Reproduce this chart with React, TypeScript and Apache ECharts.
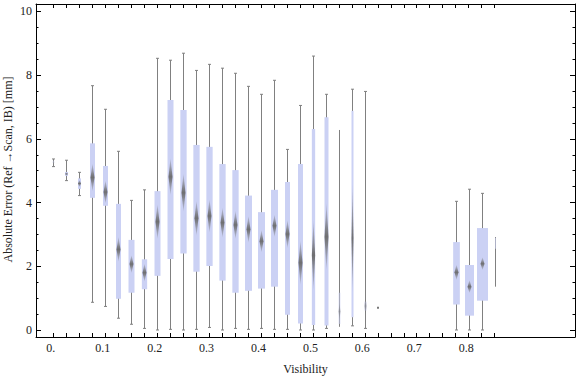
import React, { useEffect, useRef } from "react";
import * as echarts from "echarts";

// Box positions along the visibility axis
const visibility = [
  0, 0.025, 0.05, 0.075, 0.1, 0.125, 0.15, 0.175, 0.2, 0.225, 0.25, 0.275, 0.3,
  0.325, 0.35, 0.375, 0.4, 0.425, 0.45, 0.475, 0.5, 0.525, 0.55, 0.575, 0.6,
  0.625, 0.775, 0.8, 0.825, 0.85,
];
const whiskerLow = [
  5.13, 4.69, 4.22, 0.87, 0.74, 0.37, 0.18, 0.05, 0.0, 0.02, 0.0, 0.02, 0.08,
  0.0, 0.05, 0.02, 0.05, 0.02, 0.02, 0.0, 0.0, 0.05, 0.1, 0.13, 0.05, 0.7,
  0.0, 0.0, 0.0, 1.36,
];
const quartile1 = [
  5.24, 4.84, 4.43, 4.15, 3.9, 0.98, 1.17, 1.28, 1.7, 2.23, 2.4, 1.83, 2.01,
  1.55, 1.17, 1.23, 1.3, 1.36, 0.48, 0.2, 0.16, 0.14, 0.19, 0.4, 0.61, 0.7,
  0.8, 0.45, 0.92, 2.55,
];
const median = [
  5.27, 4.9, 4.6, 4.79, 4.33, 2.53, 2.07, 1.8, 3.4, 4.81, 4.31, 3.51, 3.58,
  3.37, 3.3, 3.16, 2.79, 3.27, 3.01, 2.11, 2.35, 2.93, 0.58, 2.88, 0.75, 0.7,
  1.81, 1.36, 2.08, 2.75,
];
const quartile3 = [
  5.31, 4.96, 4.76, 5.86, 5.15, 3.96, 2.83, 2.22, 4.36, 7.22, 6.91, 5.81, 5.75,
  5.21, 5.02, 4.22, 3.7, 4.4, 4.65, 5.21, 6.31, 6.68, 1.17, 6.88, 0.89, 0.7,
  2.76, 2.04, 3.2, 2.9,
];
const whiskerHigh = [
  5.37, 5.33, 4.95, 7.67, 6.93, 5.61, 4.07, 4.4, 8.53, 8.47, 8.69, 8.15, 8.34,
  8.22, 8.06, 7.65, 7.4, 7.84, 5.67, 7.05, 8.6, 7.4, 6.28, 7.56, 7.49, 0.7,
  4.04, 4.42, 4.29, 2.92,
];
// half-height of the median confidence diamond
const medianCI = [
  0.04, 0.05, 0.11, 0.44, 0.36, 0.39, 0.28, 0.28, 0.55, 0.58, 0.6, 0.55, 0.52,
  0.47, 0.44, 0.42, 0.35, 0.35, 0.44, 0.7, 1.1, 1.05, 0.27, 1.7, 0.3, 0,
  0.24, 0.2, 0.2, 0,
];
// relative sample weight (drives box width)
const sampleWeight = [
  1.5, 3, 3, 5, 5, 5, 6, 5.3, 6, 6, 6.3, 6.3, 6.3, 6.3, 6.3, 7, 7, 7, 5, 5,
  3.3, 4, 2, 2, 2, 2, 6.7, 9, 11, 1,
];
const boxOpacity = [
  0.5, 1, 1, 1, 1, 1, 1, 1, 1, 1, 1, 1, 1, 1, 1, 1, 1, 1, 1, 1, 1, 1, 0.5, 1,
  0.6, 1, 1, 1, 1, 0.6,
];
const hasCaps = [
  1, 1, 1, 1, 1, 1, 1, 1, 1, 1, 1, 1, 1, 1, 1, 1, 1, 1, 1, 1, 1, 1, 0, 1, 1,
  0, 1, 1, 1, 0,
];

const xTickValues = [
  0, 0.025, 0.05, 0.075, 0.1, 0.125, 0.15, 0.175, 0.2, 0.225, 0.25, 0.275, 0.3,
  0.325, 0.35, 0.375, 0.4, 0.425, 0.45, 0.475, 0.5, 0.525, 0.55, 0.575, 0.6,
  0.625, 0.65, 0.675, 0.7, 0.725, 0.75, 0.775, 0.8, 0.825, 0.85,
];
const xLabelValues = [0, 0.1, 0.2, 0.3, 0.4, 0.5, 0.6, 0.7, 0.8];
const xLabels = ["0.", "0.1", "0.2", "0.3", "0.4", "0.5", "0.6", "0.7", "0.8"];
const yLabelValues = [0, 2, 4, 6, 8, 10];
const yLabels = ["0", "2", "4", "6", "8", "10"];
const yMinorValues = [
  0, 0.5, 1, 1.5, 2, 2.5, 3, 3.5, 4, 4.5, 5, 5.5, 6, 6.5, 7, 7.5, 8, 8.5, 9,
  9.5, 10,
];

const X_MIN = -0.0333;
const X_MAX = 1.0048;
const Y_MIN = -0.22;
const Y_MAX = 10.235;
const FONT = '"Liberation Serif", "Times New Roman", serif';
const TEXT_COLOR = "#222";
const BOX_COLOR = "#cbd1f4";
const WHISKER_COLOR = "#808080";

function labelFor(values: number[], labels: string[], v: number) {
  let best = 0;
  for (let i = 1; i < values.length; i++) {
    if (Math.abs(values[i] - v) < Math.abs(values[best] - v)) best = i;
  }
  return labels[best];
}

export default function App() {
  const ref = useRef<HTMLDivElement>(null);

  useEffect(() => {
    if (!ref.current) return;
    const chart = echarts.init(ref.current, undefined, { renderer: "svg" });

    const data = visibility.map((x, i) => [
      x,
      whiskerLow[i],
      quartile1[i],
      median[i],
      quartile3[i],
      whiskerHigh[i],
      medianCI[i],
      sampleWeight[i],
      boxOpacity[i],
      hasCaps[i],
    ]);

    const frameAxisX = (position: "bottom" | "top", withLabels: boolean) => ({
      type: "value",
      position,
      min: X_MIN,
      max: X_MAX,
      axisLine: { show: true, onZero: false, lineStyle: { color: "#000", width: 1 } },
      axisTick: {
        show: true,
        inside: true,
        length: 4,
        customValues: xTickValues,
        lineStyle: { color: "#000", width: 1 },
      },
      axisLabel: withLabels
        ? {
            show: true,
            customValues: xLabelValues,
            formatter: (v: number) => labelFor(xLabelValues, xLabels, v),
            fontFamily: FONT,
            fontSize: 12,
            color: TEXT_COLOR,
            margin: 5,
            padding: [0, 5, 0, 0],
          }
        : { show: false },
      splitLine: { show: false },
    });

    const frameAxisY = (
      position: "left" | "right",
      major: boolean,
      withLabels: boolean
    ) => ({
      type: "value",
      position,
      min: Y_MIN,
      max: Y_MAX,
      axisLine: { show: major, onZero: false, lineStyle: { color: "#000", width: 1 } },
      axisTick: {
        show: true,
        inside: true,
        length: major ? 5 : 2.5,
        customValues: major ? yLabelValues : yMinorValues,
        lineStyle: { color: "#000", width: 1 },
      },
      axisLabel: withLabels
        ? {
            show: true,
            customValues: yLabelValues,
            formatter: (v: number) => labelFor(yLabelValues, yLabels, v),
            fontFamily: FONT,
            fontSize: 12,
            color: TEXT_COLOR,
            margin: 4,
          }
        : { show: false },
      splitLine: { show: false },
    });

    chart.setOption({
      animation: false,
      backgroundColor: "#fff",
      grid: { left: 36, right: 1, top: 4, bottom: 40, containLabel: false },
      xAxis: [frameAxisX("bottom", true), frameAxisX("top", false)],
      yAxis: [
        frameAxisY("left", true, true),
        frameAxisY("left", false, false),
        frameAxisY("right", true, false),
        frameAxisY("right", false, false),
      ],
      graphic: [
        {
          type: "text",
          x: 8,
          y: 169.5,
          rotation: Math.PI / 2,
          style: {
            text: "Absolute Error (Ref \u2192Scan, IB) [mm]",
            font: `12px ${FONT}`,
            fill: TEXT_COLOR,
            align: "center",
            verticalAlign: "middle",
          },
        },
        {
          type: "text",
          x: 305.5,
          y: 368.5,
          style: {
            text: "Visibility",
            font: `12px ${FONT}`,
            fill: TEXT_COLOR,
            align: "center",
            verticalAlign: "middle",
          },
        },
      ],
      series: [
        {
          type: "custom",
          xAxisIndex: 0,
          yAxisIndex: 0,
          clip: false,
          data,
          renderItem: (params: any, api: any) => {
            const x = api.value(0);
            const lo = api.value(1);
            const q1 = api.value(2);
            const med = api.value(3);
            const q3 = api.value(4);
            const hi = api.value(5);
            const ci = api.value(6);
            const w = api.value(7);
            const op = api.value(8);
            const caps = api.value(9);
            const pLo = api.coord([x, lo]);
            const pHi = api.coord([x, hi]);
            const pQ1 = api.coord([x, q1]);
            const pQ3 = api.coord([x, q3]);
            const pMed = api.coord([x, med]);
            const pCiTop = api.coord([x, med + ci]);
            const cx = Math.round(pLo[0]) + 0.5;
            const children: any[] = [];

            if (hi - lo < 0.01) {
              children.push({
                type: "rect",
                shape: { x: cx - 1.5, y: pMed[1] - 1, width: 2, height: 2 },
                style: { fill: "#777" },
              });
              return { type: "group", children };
            }

            children.push({
              type: "line",
              shape: { x1: cx, y1: pLo[1], x2: cx, y2: pHi[1] },
              style: { stroke: WHISKER_COLOR, lineWidth: 1 },
            });
            if (caps) {
              children.push({
                type: "line",
                shape: { x1: cx - 1.5, y1: pLo[1], x2: cx + 1.5, y2: pLo[1] },
                style: { stroke: WHISKER_COLOR, lineWidth: 1 },
              });
              children.push({
                type: "line",
                shape: { x1: cx - 1.5, y1: pHi[1], x2: cx + 1.5, y2: pHi[1] },
                style: { stroke: WHISKER_COLOR, lineWidth: 1 },
              });
            }
            children.push({
              type: "rect",
              shape: {
                x: cx - w / 2,
                y: pQ3[1],
                width: w,
                height: Math.max(pQ1[1] - pQ3[1], 1),
              },
              style: { fill: BOX_COLOR, opacity: op },
            });
            const ciPx = Math.max(pMed[1] - pCiTop[1], 1);
            const dw = Math.min(2, w / 2);
            if (ci > 0) {
              children.push({
                type: "polygon",
                shape: {
                  points: [
                    [cx, pMed[1] - ciPx],
                    [cx + dw, pMed[1]],
                    [cx, pMed[1] + ciPx],
                    [cx - dw, pMed[1]],
                  ],
                },
                style: {
                  opacity: op,
                  fill: new echarts.graphic.LinearGradient(0, 0, 0, 1, [
                    { offset: 0, color: "rgba(110,110,110,0.15)" },
                    { offset: 0.5, color: "rgba(105,105,105,0.95)" },
                    { offset: 1, color: "rgba(110,110,110,0.15)" },
                  ]),
                },
              });
            }
            return { type: "group", children };
          },
        },
      ],
    });

    return () => chart.dispose();
  }, []);

  return (
    <div
      ref={ref}
      style={{ position: "absolute", left: 0, top: 0, width: 576, height: 377 }}
    />
  );
}
